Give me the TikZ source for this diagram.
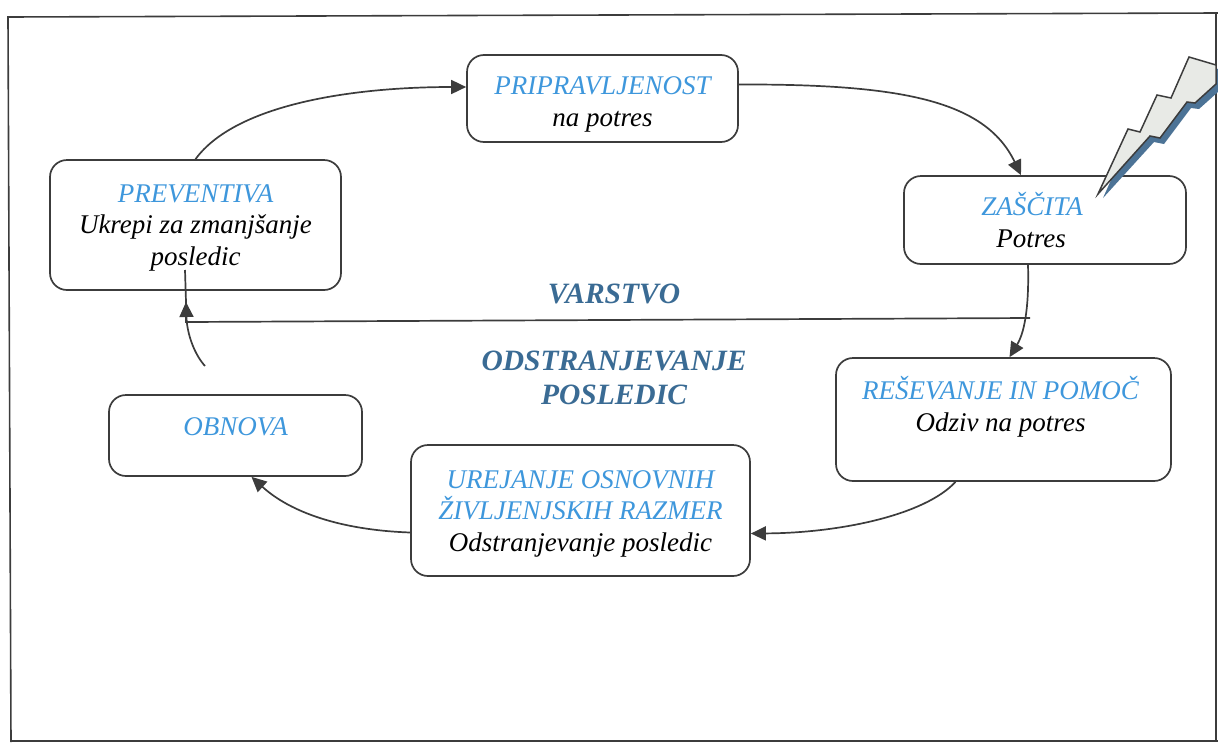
\documentclass[tikz,border=0pt]{standalone}
\usepackage{fontspec}
\setmainfont{Liberation Serif}
\usetikzlibrary{arrows.meta}
\definecolor{boxline}{HTML}{3C3C3C}
\definecolor{headblue}{HTML}{3E97DC}
\definecolor{layerblue}{HTML}{3A6B94}
\definecolor{boltfill}{HTML}{E8EAE6}
\definecolor{boltshadow}{HTML}{4C7396}
\tikzset{
  phasebox/.style={draw=boxline, line width=1.7pt, rounded corners=17pt, fill=white, align=center, inner sep=0pt,
    font=\fontsize{27}{31.5}\selectfont\itshape},
  layertext/.style={align=center, text=layerblue, font=\fontsize{29.5}{34}\selectfont\itshape\bfseries},
  cyclearrow/.style={draw=boxline, line width=1.7pt, -{Triangle[length=15pt,width=14pt]}}
}
\newcommand{\phasename}[1]{\textcolor{headblue}{#1}}
\newcommand{\topstrut}[1]{\rule{0pt}{#1}}

\begin{document}
\begin{tikzpicture}[x=1pt,y=-1pt]

  \useasboundingbox (0,0) rectangle (1218,742);
  \draw [boxline, line width=1.6pt] (11,742) -- (8,17) -- (1218,13);
  \draw [boxline, line width=1.6pt] (1216,13) -- (1216,742);
  \draw [boxline, line width=1.6pt] (11,741) -- (1218,741);

  \node (pripravljenost) at (602.5,98.5) [phasebox, minimum width=271pt, minimum height=87pt]
    {\topstrut{30pt}\phasename{PRIPRAVLJENOST} \\ na potres};
  \node (zascita) at (1045,220) [phasebox, minimum width=282pt, minimum height=88pt]
    {\phasename{ZAŠČITA}\hspace*{26pt} \\ Potres\hspace*{28pt}};
  \node (resevanje) at (1003.5,419.5) [phasebox, minimum width=335pt, minimum height=123pt]
    {\phasename{REŠEVANJE IN POMOČ}\hspace*{6pt} \\ Odziv na potres\hspace*{6pt} \\ ~};
  \node (urejanje) at (580.5,510.5) [phasebox, minimum width=339pt, minimum height=131pt]
    {\topstrut{24pt}\phasename{UREJANJE OSNOVNIH} \\ \phasename{ŽIVLJENJSKIH RAZMER} \\ Odstranjevanje posledic};
  \node (obnova) at (235.5,435.5) [phasebox, minimum width=253pt, minimum height=81pt, text depth=17pt]
    {\phasename{OBNOVA}};
  \node (preventiva) at (195.5,225) [phasebox, minimum width=291pt, minimum height=130pt]
    {\topstrut{23pt}\phasename{PREVENTIVA} \\ Ukrepi za zmanjšanje \\ posledic};

  \node (varstvo) at (614,294) [layertext] {VARSTVO};
  \node (odstranjevanje) at (614,378) [layertext] {ODSTRANJEVANJE \\ POSLEDIC};

  %%% Cycle arrows
  \coordinate (obnovaend) at (205,366);
  \coordinate (layerturn) at (186,322);
  \coordinate (layerend) at (186,302);
  \coordinate (layerstart) at (1030,318);

  \draw [cyclearrow] (preventiva.north) .. controls (235,105) and (350,87) .. (pripravljenost.west |- 0,87);
  \draw [cyclearrow] ([yshift=14pt]pripravljenost.east) .. controls (900,84) and (985,100) .. ([xshift=-24pt]zascita.north);
  \draw [cyclearrow] ([xshift=-17pt]zascita.south) .. controls (1029,300) and (1026,330) .. ([xshift=6pt]resevanje.north);
  \draw [cyclearrow] ([xshift=-48pt]resevanje.south) .. controls (925,515) and (840,533) .. ([yshift=-23pt]urejanje.east);
  \draw [cyclearrow] ([yshift=-22pt]urejanje.west) .. controls (340,530) and (290,512) .. ([xshift=16pt]obnova.south);
  \draw [cyclearrow] (obnovaend) .. controls (195,355) and (187,335) .. (layerend);
  \draw [boxline, line width=1.7pt] (layerstart) -- (layerturn) -- (layerend);
  \draw [boxline, line width=1.7pt] (layerend) -- (185,270);

  %%% Lightning
  \fill [boltshadow] (1103,198) -- (1132,133) -- (1144,136) -- (1161,99) -- (1175,102) -- (1193,61) -- (1218,69) -- (1218,92) -- (1199,109) -- (1191,108) -- (1164,144) -- (1154,142) -- cycle;
  \draw [boxline, fill=boltfill, line width=1.5pt, line join=miter] (1098,194) -- (1128,129) -- (1140,132) -- (1157,95) -- (1171,98) -- (1189,57) -- (1216,65) -- (1216,84) -- (1195,103) -- (1187,102) -- (1160,138) -- (1150,136) -- cycle;

\end{tikzpicture}
\end{document}
